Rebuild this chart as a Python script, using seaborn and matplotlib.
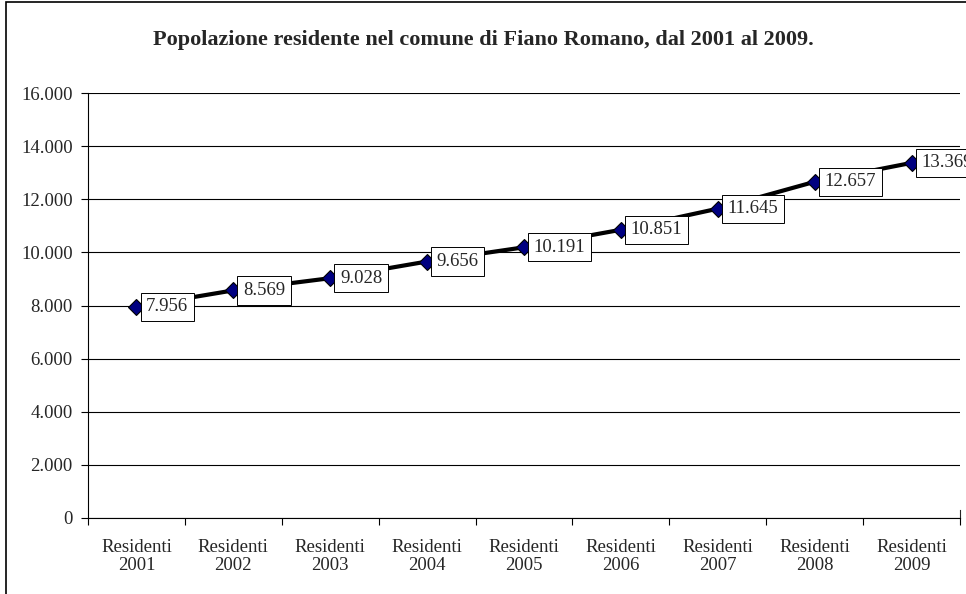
import numpy as np
import matplotlib.pyplot as plt
import seaborn as sns
from matplotlib.patches import Rectangle
from matplotlib.ticker import FuncFormatter, FixedLocator

# Dati: residenti a Fiano Romano
anni = ["2001", "2002", "2003", "2004", "2005", "2006", "2007", "2008", "2009"]
residenti = [7956, 8569, 9028, 9656, 10191, 10851, 11645, 12657, 13369]
etichette_x = ["Residenti\n" + a for a in anni]

sns.set_style("white")
plt.rcParams["font.family"] = ["Liberation Serif", "DejaVu Serif"]


def fmt_it(v, pos=None):
    return f"{int(v):,}".replace(",", ".")


fig = plt.figure(figsize=(9.66, 5.94), dpi=100)
ax = fig.add_axes([88 / 966, 1 - 518 / 594, 872 / 966, 425 / 594])

pos = np.arange(len(anni))
sns.lineplot(x=pos, y=residenti, ax=ax, color="black", linewidth=3,
             marker="D", markersize=8, markerfacecolor="#000080",
             markeredgecolor="black", markeredgewidth=0.8, zorder=3)

# etichette dati con riquadro
for xi, v in zip(pos, residenti):
    ax.annotate(fmt_it(v), (xi, v), xytext=(7, 0), textcoords="offset points",
                ha="left", va="center", fontsize=13.5, annotation_clip=False,
                bbox=dict(boxstyle="square,pad=0.3", fc="white", ec="black", lw=0.7),
                zorder=4)

ax.set_xlim(-0.5, len(anni) - 0.5)
ax.set_ylim(0, 16000)
ax.set_yticks(np.arange(0, 16001, 2000))
ax.yaxis.set_major_formatter(FuncFormatter(fmt_it))
ax.set_xticks(pos)
ax.set_xticklabels(etichette_x, linespacing=1.1)
ax.xaxis.set_minor_locator(FixedLocator(np.arange(-0.5, len(anni), 1)))
ax.tick_params(axis="x", which="major", length=0, pad=15, labelsize=13.5)
ax.tick_params(axis="x", which="minor", length=5, width=0.8, direction="out",
               color="black", bottom=True)
ax.tick_params(axis="y", length=5, width=0.8, direction="out", color="black",
               labelsize=13.5, left=True, pad=6)
ax.grid(axis="y", color="black", linewidth=0.8)
ax.set_axisbelow(True)
for s in ["top", "right"]:
    ax.spines[s].set_visible(False)
for s in ["left", "bottom"]:
    ax.spines[s].set_color("black")
    ax.spines[s].set_linewidth(0.8)
ax.spines["right"].set_visible(True)
ax.spines["right"].set_bounds(0, 300)
ax.set_xlabel("")
ax.set_ylabel("")

fig.text(483 / 966, 1 - 40 / 594,
         "Popolazione residente nel comune di Fiano Romano, dal 2001 al 2009.",
         ha="center", va="center", fontsize=16, fontweight="bold")

# cornice del grafico
fig.patches.append(Rectangle((6 / 966, -0.1), 1.2, 1.1 - 2 / 594, transform=fig.transFigure,
                             fill=False, ec="black", lw=1.2))

fig.savefig("out.png", dpi=100)
